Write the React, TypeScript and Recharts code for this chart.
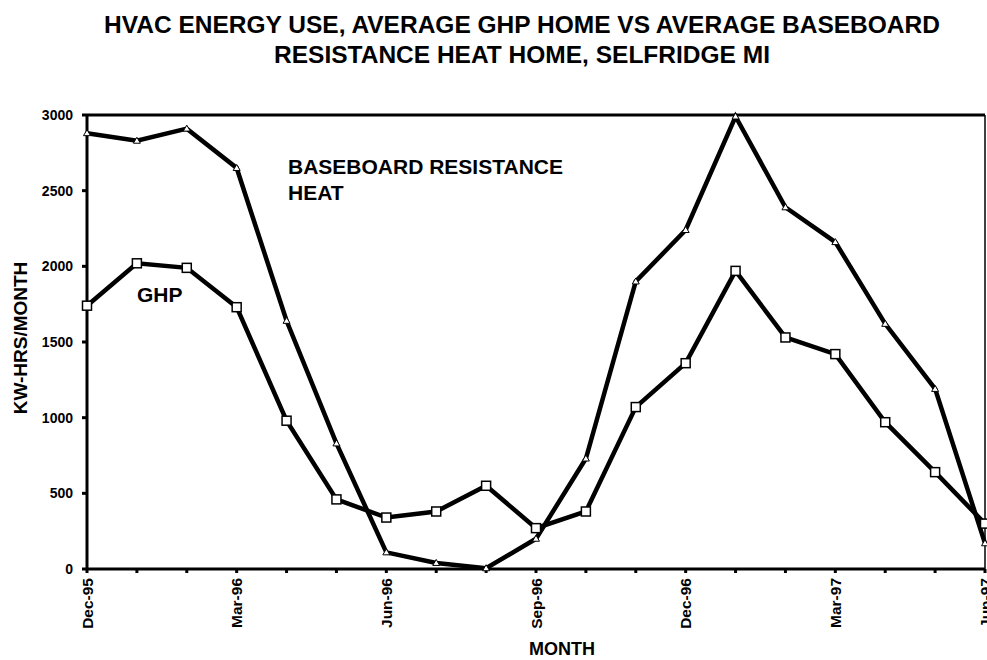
import React from 'react';
import {Line, LineChart, ReferenceLine, XAxis, YAxis, Label} from 'recharts';

const months = [
  'Dec-95', 'Jan-96', 'Feb-96', 'Mar-96', 'Apr-96', 'May-96', 'Jun-96', 'Jul-96', 'Aug-96', 'Sep-96',
  'Oct-96', 'Nov-96', 'Dec-96', 'Jan-97', 'Feb-97', 'Mar-97', 'Apr-97', 'May-97', 'Jun-97',
];
const ghp = [1740, 2020, 1990, 1730, 980, 460, 340, 380, 550, 270, 380, 1070, 1360, 1970, 1530, 1420, 970, 640, 300];
const baseboard = [2880, 2830, 2910, 2650, 1640, 830, 110, 40, 5, 200, 730, 1900, 2240, 2990, 2390, 2160, 1620, 1190, 170];
const tickLabels = ['Dec-95', 'Mar-96', 'Jun-96', 'Sep-96', 'Dec-96', 'Mar-97', 'Jun-97'];
const yTicks = [0, 500, 1000, 1500, 2000, 2500, 3000];

const data = months.map((m, i) => ({month: m, ghp: ghp[i], baseboard: baseboard[i]}));

const FONT = '"Liberation Sans", Arial, Helvetica, sans-serif';

const SquareDot = (props: any) => {
  const {cx, cy} = props;
  if (cx == null || cy == null) return null;
  return <rect x={cx - 4.5} y={cy - 4.5} width={9} height={9} fill="#fff" stroke="#000" strokeWidth={1.5} />;
};

const TriangleDot = (props: any) => {
  const {cx, cy} = props;
  if (cx == null || cy == null) return null;
  return <path d={`M${cx},${cy - 3.5} L${cx + 3.5},${cy + 2.5} L${cx - 3.5},${cy + 2.5} Z`} fill="#fff" stroke="#000" strokeWidth={1} />;
};

const MonthTick = (props: any) => {
  const {x, y, payload} = props;
  if (!tickLabels.includes(payload.value)) return null;
  return (
    <text
      transform={`translate(${x + 5.5},${y}) rotate(-90)`}
      textAnchor="end"
      fontFamily={FONT}
      fontWeight="bold"
      fontSize={15.5}
      fill="#000"
    >
      {payload.value}
    </text>
  );
};

const App = () => {
  return (
    <div style={{position: 'absolute', left: 0, top: 0, width: 987, height: 660, background: '#fff'}}>
      <LineChart
        width={987}
        height={660}
        data={data}
        margin={{top: 115, right: 2, bottom: 31, left: 27}}
      >
        <XAxis
          dataKey="month"
          interval={0}
          height={60}
          tickSize={4}
          tickMargin={5}
          stroke="#000"
          strokeWidth={3}
          tick={<MonthTick />}
        >
          <Label
            content={(p: any) => (
              <text x={p.viewBox.x + p.viewBox.width / 2 + 26} y={655} textAnchor="middle"
                    fontFamily={FONT} fontWeight="bold" fontSize={18} fill="#000">MONTH</text>
            )}
          />
        </XAxis>
        <YAxis
          domain={[0, 3000]}
          ticks={yTicks}
          width={60}
          tickSize={5}
          tickMargin={9}
          stroke="#000"
          strokeWidth={3}
          tick={{fill: '#000', fontSize: 14, fontWeight: 'bold', fontFamily: FONT}}
        >
          <Label
            content={(p: any) => (
              <text transform={`translate(${p.viewBox.x},${p.viewBox.y + p.viewBox.height / 2 - 4}) rotate(-90)`}
                    textAnchor="middle" fontFamily={FONT} fontWeight="bold" fontSize={19} fill="#000">KW-HRS/MONTH</text>
            )}
          />
        </YAxis>
        <ReferenceLine y={3000} stroke="#000" strokeWidth={3} />
        <ReferenceLine x="Jun-97" stroke="#000" strokeWidth={1.5} />
        <Line dataKey="baseboard" stroke="#000" strokeWidth={4.5} dot={<TriangleDot />} isAnimationActive={false} />
        <Line dataKey="ghp" stroke="#000" strokeWidth={4.5} dot={<SquareDot />} isAnimationActive={false} />
      </LineChart>
      <svg width={987} height={660} style={{position: 'absolute', left: 0, top: 0, pointerEvents: 'none'}}>
        <g fontFamily={FONT} fontWeight="bold" fill="#000">
          <text x={522} y={33} fontSize={24.5} textAnchor="middle">HVAC ENERGY USE, AVERAGE GHP HOME VS AVERAGE BASEBOARD</text>
          <text x={522} y={63} fontSize={24.5} textAnchor="middle">RESISTANCE HEAT HOME, SELFRIDGE MI</text>
          <text x={288} y={174} fontSize={21}>BASEBOARD RESISTANCE</text>
          <text x={288} y={200} fontSize={21}>HEAT</text>
          <text x={137} y={302} fontSize={21}>GHP</text>
        </g>
      </svg>
    </div>
  );
};

export default App;
